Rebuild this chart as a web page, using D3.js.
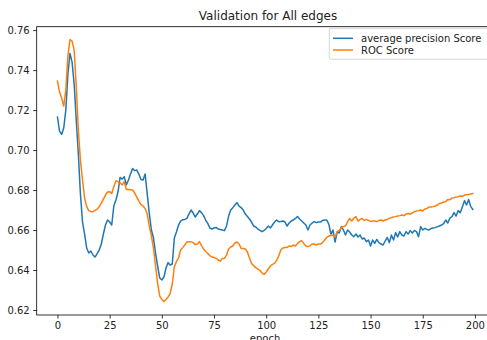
<!DOCTYPE html>
<html>
<head>
<meta charset="utf-8">
<script src="https://cdn.jsdelivr.net/npm/d3@7"></script>
<style>
  html, body { margin: 0; padding: 0; background: #fff; }
  svg { display: block; font-family: "DejaVu Sans", sans-serif; }
</style>
</head>
<body>
<svg id="chart" width="487" height="340"></svg>
<script>
const epochs = d3.range(0, 200);

const apScore = [
0.7165,0.7095,0.7078,0.7110,0.7200,0.7380,0.7483,0.7440,0.7330,0.7150,
0.6980,0.6780,0.6640,0.6580,0.6510,0.6485,0.6495,0.6475,0.6465,0.6482,
0.6500,0.6530,0.6580,0.6625,0.6650,0.6640,0.6625,0.6720,0.6750,0.6790,
0.6863,0.6855,0.6867,0.6825,0.6850,0.6880,0.6908,0.6897,0.6900,0.6880,
0.6853,0.6850,0.6880,0.6780,0.6683,0.6600,0.6560,0.6483,0.6420,0.6360,
0.6350,0.6365,0.6410,0.6437,0.6425,0.6430,0.6560,0.6590,0.6625,0.6645,
0.6652,0.6653,0.6658,0.6680,0.6700,0.6685,0.6665,0.6680,0.6697,0.6687,
0.6672,0.6650,0.6633,0.6610,0.6605,0.6610,0.6613,0.6605,0.6603,0.6600,
0.6597,0.6620,0.6670,0.6700,0.6712,0.6725,0.6737,0.6720,0.6712,0.6700,
0.6680,0.6668,0.6655,0.6640,0.6620,0.6615,0.6605,0.6598,0.6592,0.6598,
0.6608,0.6620,0.6610,0.6625,0.6640,0.6650,0.6642,0.6643,0.6645,0.6640,
0.6620,0.6635,0.6645,0.6650,0.6658,0.6668,0.6655,0.6645,0.6635,0.6625,
0.6600,0.6625,0.6635,0.6642,0.6637,0.6640,0.6640,0.6648,0.6650,0.6650,
0.6630,0.6580,0.6600,0.6540,0.6590,0.6585,0.6617,0.6600,0.6575,0.6600,
0.6590,0.6575,0.6567,0.6580,0.6565,0.6575,0.6555,0.6560,0.6542,0.6550,
0.6520,0.6550,0.6533,0.6553,0.6537,0.6530,0.6525,0.6545,0.6563,0.6537,
0.6575,0.6550,0.6587,0.6565,0.6592,0.6575,0.6570,0.6592,0.6580,0.6597,
0.6585,0.6598,0.6592,0.6567,0.6617,0.6600,0.6608,0.6603,0.6600,0.6608,
0.6610,0.6612,0.6617,0.6620,0.6625,0.6632,0.6650,0.6635,0.6660,0.6667,
0.6687,0.6670,0.6697,0.6687,0.6717,0.6747,0.6725,0.6753,0.6717,0.6703
];

const rocScore = [
0.7345,0.7290,0.7260,0.7220,0.7300,0.7470,0.7553,0.7545,0.7500,0.7320,
0.7100,0.6950,0.6850,0.6760,0.6717,0.6697,0.6693,0.6692,0.6698,0.6705,
0.6717,0.6735,0.6755,0.6775,0.6790,0.6792,0.6783,0.6817,0.6847,0.6842,
0.6835,0.6825,0.6842,0.6803,0.6803,0.6802,0.6800,0.6785,0.6765,0.6745,
0.6728,0.6720,0.6708,0.6680,0.6620,0.6570,0.6510,0.6420,0.6333,0.6270,
0.6253,0.6242,0.6253,0.6265,0.6283,0.6330,0.6417,0.6442,0.6460,0.6500,
0.6512,0.6525,0.6540,0.6542,0.6542,0.6537,0.6527,0.6530,0.6542,0.6522,
0.6505,0.6493,0.6483,0.6472,0.6465,0.6463,0.6458,0.6450,0.6444,0.6458,
0.6458,0.6475,0.6505,0.6515,0.6520,0.6535,0.6540,0.6530,0.6508,0.6508,
0.6505,0.6490,0.6460,0.6433,0.6422,0.6412,0.6405,0.6398,0.6385,0.6378,
0.6390,0.6405,0.6420,0.6428,0.6433,0.6448,0.6470,0.6500,0.6510,0.6513,
0.6513,0.6520,0.6518,0.6525,0.6520,0.6532,0.6542,0.6547,0.6533,0.6520,
0.6517,0.6522,0.6530,0.6530,0.6525,0.6530,0.6530,0.6537,0.6550,0.6563,
0.6570,0.6573,0.6575,0.6565,0.6592,0.6598,0.6610,0.6618,0.6620,0.6642,
0.6658,0.6645,0.6660,0.6667,0.6645,0.6653,0.6658,0.6648,0.6653,0.6648,
0.6643,0.6645,0.6645,0.6642,0.6648,0.6650,0.6645,0.6650,0.6653,0.6658,
0.6663,0.6665,0.6667,0.6670,0.6672,0.6675,0.6672,0.6680,0.6683,0.6680,
0.6685,0.6692,0.6695,0.6697,0.6700,0.6695,0.6705,0.6708,0.6715,0.6715,
0.6717,0.6720,0.6725,0.6733,0.6735,0.6740,0.6742,0.6753,0.6752,0.6760,
0.6762,0.6765,0.6767,0.6770,0.6768,0.6775,0.6777,0.6778,0.6780,0.6783
];

const xTicks = [0, 25, 50, 75, 100, 125, 150, 175, 200];
const yTicks = [0.62, 0.64, 0.66, 0.68, 0.70, 0.72, 0.74, 0.76];
const seriesNames = ["average precision Score", "ROC Score"];
const seriesColors = ["#1f77b4", "#ff7f0e"];
const titleText = "Validation for All edges";
const xLabel = "epoch";

(function () {
const svg = d3.select("#chart");
const mLeft = 36.7, mRight = 493.6, mTop = 26.7, mBottom = 315;

const x = d3.scaleLinear().domain([-9.95, 208.95]).range([mLeft, mRight]);
const y = d3.scaleLinear().domain([0.6175, 0.7617]).range([mBottom, mTop]);

svg.append("defs").append("clipPath").attr("id", "clip")
  .append("rect").attr("x", mLeft).attr("y", mTop)
  .attr("width", mRight - mLeft).attr("height", mBottom - mTop);

const line = d3.line().x((d, i) => x(epochs[i])).y(d => y(d));

const seriesData = [apScore, rocScore];
svg.append("g").attr("clip-path", "url(#clip)")
  .selectAll("path").data(seriesData).join("path")
  .attr("d", d => line(d))
  .attr("fill", "none")
  .attr("stroke", (d, i) => seriesColors[i])
  .attr("stroke-width", 1.5)
  .attr("stroke-linejoin", "round")
  .attr("stroke-linecap", "square");

const xAxis = d3.axisBottom(x).tickValues(xTicks).tickSize(3.5).tickPadding(3.5).tickFormat(d3.format("d"));
const yAxis = d3.axisLeft(y).tickValues(yTicks).tickSize(3.5).tickPadding(3.5).tickFormat(d3.format(".2f"));

const gx = svg.append("g").attr("transform", `translate(0,${mBottom})`).call(xAxis);
const gy = svg.append("g").attr("transform", `translate(${mLeft},0)`).call(yAxis);
[gx, gy].forEach(g => {
  g.select(".domain").remove();
  g.selectAll(".tick line").attr("stroke", "#000").attr("stroke-width", 0.8);
  g.selectAll(".tick text").attr("fill", "#222").style("font-size", "10px")
    .style("font-family", "'DejaVu Sans', sans-serif");
});

svg.append("rect").attr("x", mLeft).attr("y", mTop)
  .attr("width", mRight - mLeft).attr("height", mBottom - mTop)
  .attr("fill", "none").attr("stroke", "#000").attr("stroke-width", 0.8);

svg.append("text").attr("x", 268).attr("y", 19.5)
  .attr("text-anchor", "middle").attr("fill", "#222")
  .style("font-size", "12px").text(titleText);

svg.append("text").attr("x", 265).attr("y", 342)
  .attr("text-anchor", "middle").attr("fill", "#222")
  .style("font-size", "10px").text(xLabel);

const lg = svg.append("g");
lg.append("rect").attr("x", 329.3).attr("y", 28.3).attr("width", 175).attr("height", 31)
  .attr("rx", 2).attr("fill", "#fff").attr("fill-opacity", 0.8)
  .attr("stroke", "#ccc").attr("stroke-width", 0.8);
seriesNames.forEach((name, i) => {
  const cy = 38.3 + i * 11.7;
  lg.append("line").attr("x1", 333).attr("x2", 353).attr("y1", cy).attr("y2", cy)
    .attr("stroke", seriesColors[i]).attr("stroke-width", 1.5);
  lg.append("text").attr("x", 361).attr("y", cy).attr("dy", "0.35em")
    .attr("fill", "#222").style("font-size", "10px").text(name);
});
})();
</script>
</body>
</html>
